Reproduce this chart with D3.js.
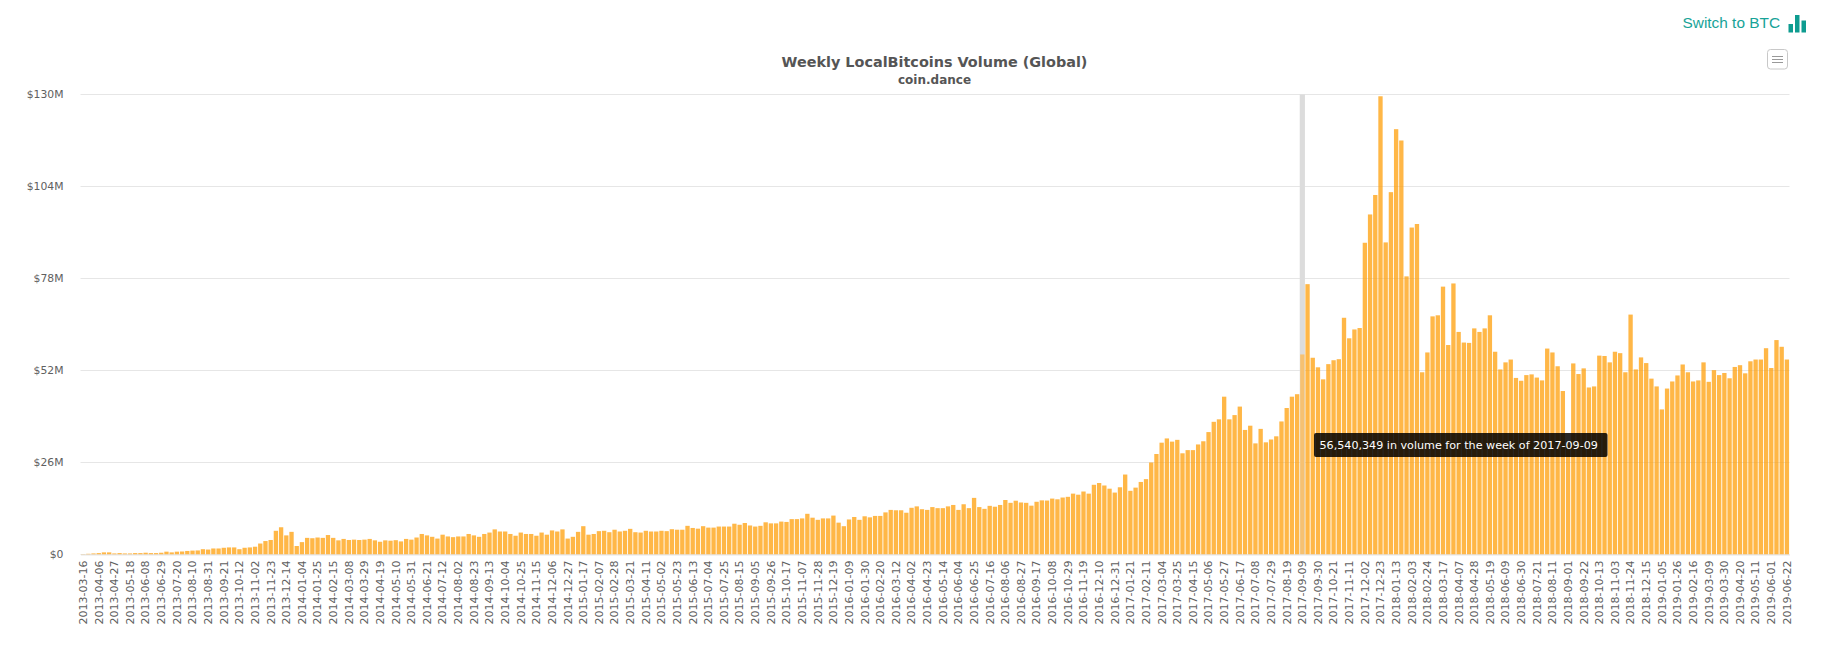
<!DOCTYPE html>
<html>
<head>
<meta charset="utf-8">
<script src="https://cdn.jsdelivr.net/npm/d3@7"></script>
<style>
  html, body { margin: 0; padding: 0; background: #fff; overflow: hidden; }
  svg { display: block; }
  text { font-family: "DejaVu Sans", Verdana, sans-serif; }
</style>
</head>
<body>
<script>
// weekly volume in $M, one list per calendar year
var volume2013 = [0.1,0.2,0.3,0.4,0.6,0.6,0.3,0.4,0.3,0.3,0.4,0.4,0.5,0.4,0.4,0.5,0.8,0.6,0.8,0.85,1.0,1.1,1.15,1.5,1.4,1.7,1.7,1.9,2.0,2.0,1.5,1.9,2.0,2.2,3.1,3.8,4.1,6.7,7.7,5.4,6.4,2.4];
var volume2014 = [3.5,4.7,4.6,4.8,4.7,5.5,4.7,4.0,4.4,4.1,4.2,4.1,4.2,4.4,4.0,3.6,4.0,3.9,4.05,3.7,4.4,4.2,4.8,5.8,5.4,5.0,4.5,5.6,5.1,4.9,5.1,5.1,5.8,5.4,5.0,5.8,6.2,7.1,6.5,6.5,5.8,5.3,6.2,5.8,5.8,5.3,6.2,5.6,6.8,6.5,7.1,4.5];
var volume2015 = [5.0,6.4,8.0,5.6,5.8,6.6,6.7,6.3,7.0,6.5,6.7,7.25,6.3,6.2,6.7,6.5,6.5,6.7,6.6,7.15,7.0,7.0,8.1,7.5,7.3,8.0,7.6,7.6,7.9,7.9,7.9,8.7,8.4,8.9,8.2,7.9,8.1,9.1,8.8,8.8,9.3,9.2,10.0,10.0,10.2,11.5,10.4,9.8,10.2,10.2,11.0,9.0];
var volume2016 = [8.0,9.9,10.6,9.8,10.8,10.5,10.9,10.9,11.9,12.6,12.5,12.5,11.8,13.2,13.6,12.8,12.6,13.4,13.1,13.1,13.6,14.0,12.6,14.2,13.1,16.0,13.4,12.9,13.75,13.5,14.0,15.4,14.6,15.2,14.7,14.6,13.8,14.9,15.3,15.25,15.8,15.6,16.1,16.3,17.2,16.9,17.8,17.2,19.7,20.2,19.5,18.6,17.5];
var volume2017 = [19.0,22.6,18.0,18.9,20.5,21.3,26.0,28.4,31.6,32.8,31.9,32.4,28.6,29.5,29.5,31.1,32.0,34.6,37.5,38.2,44.6,38.2,39.4,41.8,35.2,36.4,31.4,35.5,31.7,32.5,33.4,37.6,41.4,44.6,45.3,56.54,76.4,55.6,52.9,49.5,53.8,54.9,55.2,66.9,61.1,63.6,64.0,88.1,96.1,101.6,129.5,88.2];
var volume2018 = [102.4,120.2,117.0,78.6,92.4,93.4,51.5,57.1,67.3,67.6,75.7,59.2,76.6,62.9,59.9,59.8,63.9,62.9,63.9,67.6,57.3,52.3,54.3,55.1,49.9,49.1,50.7,50.9,50.0,49.2,58.2,57.1,53.2,46.2,31,54.0,51.0,52.6,47.2,47.5,56.2,56.1,54.3,57.3,56.9,51.5,67.8,52.3,55.7,54.1,49.7,47.5];
var volume2019 = [41.0,46.9,48.9,50.6,53.7,51.5,48.9,49.2,54.3,48.8,52.1,50.7,51.3,49.8,53.0,53.5,51.2,54.6,55.1,55.1,58.3,52.7,60.6,58.7,55.1];

var yTicks = [0, 26, 52, 78, 104, 130];
var hoverWeek = "2017-09-09";
var hoverVolume = 56540349;
var firstWeek = "2013-03-16";
var labelEvery = 3;

var volumes = [].concat(volume2013, volume2014, volume2015, volume2016, volume2017, volume2018, volume2019);
var fmtDay = d3.utcFormat("%Y-%m-%d");
var start = d3.utcParse("%Y-%m-%d")(firstWeek);
var data = volumes.map(function(v, i) {
  return { week: fmtDay(d3.utcDay.offset(start, 7 * i)), value: v };
});

var width = 1822, height = 647;
var plotLeft = 80.5, plotRight = 1789.5, plotTop = 94.5, plotBottom = 554.5;

var svg = d3.select("body").append("svg")
  .attr("width", width)
  .attr("height", height);

var x = d3.scaleBand()
  .domain(data.map(function(d) { return d.week; }))
  .range([plotLeft, plotRight])
  .paddingInner(0.17)
  .paddingOuter(0.085);

var y = d3.scaleLinear().domain([0, 130]).range([plotBottom, plotTop]);

// grid
svg.append("g").selectAll("line")
  .data(yTicks)
  .enter().append("line")
  .attr("x1", plotLeft).attr("x2", plotRight)
  .attr("y1", function(d) { return y(d); })
  .attr("y2", function(d) { return y(d); })
  .attr("stroke", "#e6e6e6");

// crosshair behind the hovered week
var step = x.step();
svg.append("rect")
  .attr("x", x(hoverWeek) + x.bandwidth() / 2 - step / 2)
  .attr("y", plotTop)
  .attr("width", step)
  .attr("height", plotBottom - plotTop)
  .attr("fill", "#dcdcdc");

// bars
svg.append("g").selectAll("rect")
  .data(data)
  .enter().append("rect")
  .attr("x", function(d) { return x(d.week); })
  .attr("y", function(d) { return y(d.value); })
  .attr("width", x.bandwidth())
  .attr("height", function(d) { return plotBottom - y(d.value); })
  .attr("fill", function(d) { return d.week == hoverWeek ? "#ffb84d" : "#ff9f0a"; })
  .attr("fill-opacity", 0.75);

// axes
var xAxis = d3.axisBottom(x)
  .tickSize(0)
  .tickValues(data.filter(function(d, i) { return i % labelEvery == 0; }).map(function(d) { return d.week; }));

var gx = svg.append("g")
  .attr("transform", "translate(0," + plotBottom + ")")
  .call(xAxis);
gx.select(".domain").attr("stroke", "#e6e6e6");
gx.selectAll("text")
  .attr("transform", "rotate(-90)")
  .attr("x", -6)
  .attr("y", 0)
  .attr("dy", "0.35em")
  .attr("text-anchor", "end")
  .style("font-family", '"DejaVu Sans", Verdana, sans-serif')
  .style("font-size", "11px")
  .style("fill", "#606060");

var yAxis = d3.axisLeft(y)
  .tickValues(yTicks)
  .tickSize(0)
  .tickFormat(function(d) { return "$" + d + (d ? "M" : ""); });

var gy = svg.append("g")
  .attr("transform", "translate(" + (plotLeft - 17) + ",0)")
  .call(yAxis);
gy.select(".domain").remove();
gy.selectAll("text")
  .attr("x", 0)
  .style("font-family", '"DejaVu Sans", Verdana, sans-serif')
  .style("font-size", "10.8px")
  .style("fill", "#606060");

// titles
svg.append("text")
  .attr("x", 934.5).attr("y", 67)
  .attr("text-anchor", "middle")
  .style("font-size", "14.4px")
  .style("font-weight", "bold")
  .style("fill", "#555")
  .text("Weekly LocalBitcoins Volume (Global)");

svg.append("text")
  .attr("x", 934.5).attr("y", 84)
  .attr("text-anchor", "middle")
  .style("font-size", "12px")
  .style("font-weight", "bold")
  .style("fill", "#555")
  .text("coin.dance");

// switch link with its little bars icon
svg.append("text")
  .attr("x", 1780).attr("y", 28)
  .attr("text-anchor", "end")
  .style("font-family", '"Liberation Sans", Arial, sans-serif')
  .style("font-size", "15.4px")
  .style("fill", "#17a398")
  .text("Switch to BTC");

svg.append("g").selectAll("rect")
  .data([[1788.5, 24], [1795, 15], [1801.5, 20.5]])
  .enter().append("rect")
  .attr("x", function(d) { return d[0]; })
  .attr("y", function(d) { return d[1]; })
  .attr("width", 4.5)
  .attr("height", function(d) { return 32.5 - d[1]; })
  .attr("fill", "#0e9c90");

// export menu button
svg.append("rect")
  .attr("x", 1767.5).attr("y", 49.5)
  .attr("width", 20).attr("height", 19.5)
  .attr("rx", 3)
  .attr("fill", "#fff")
  .attr("stroke", "#c8c8c8");

svg.append("g").selectAll("line")
  .data([56.5, 59.5, 62.5])
  .enter().append("line")
  .attr("x1", 1772).attr("x2", 1783)
  .attr("y1", function(d) { return d; })
  .attr("y2", function(d) { return d; })
  .attr("stroke", "#999");

// tooltip for the hovered week
var tip = svg.append("g").attr("transform", "translate(1314,433)");
tip.append("rect")
  .attr("width", 293.5).attr("height", 24)
  .attr("rx", 2)
  .attr("fill", "#000")
  .attr("fill-opacity", 0.85);
tip.append("text")
  .attr("x", 5.5).attr("y", 16)
  .style("font-size", "11.15px")
  .style("fill", "#fff")
  .text(d3.format(",")(hoverVolume) + " in volume for the week of " + hoverWeek);
</script>
</body>
</html>
